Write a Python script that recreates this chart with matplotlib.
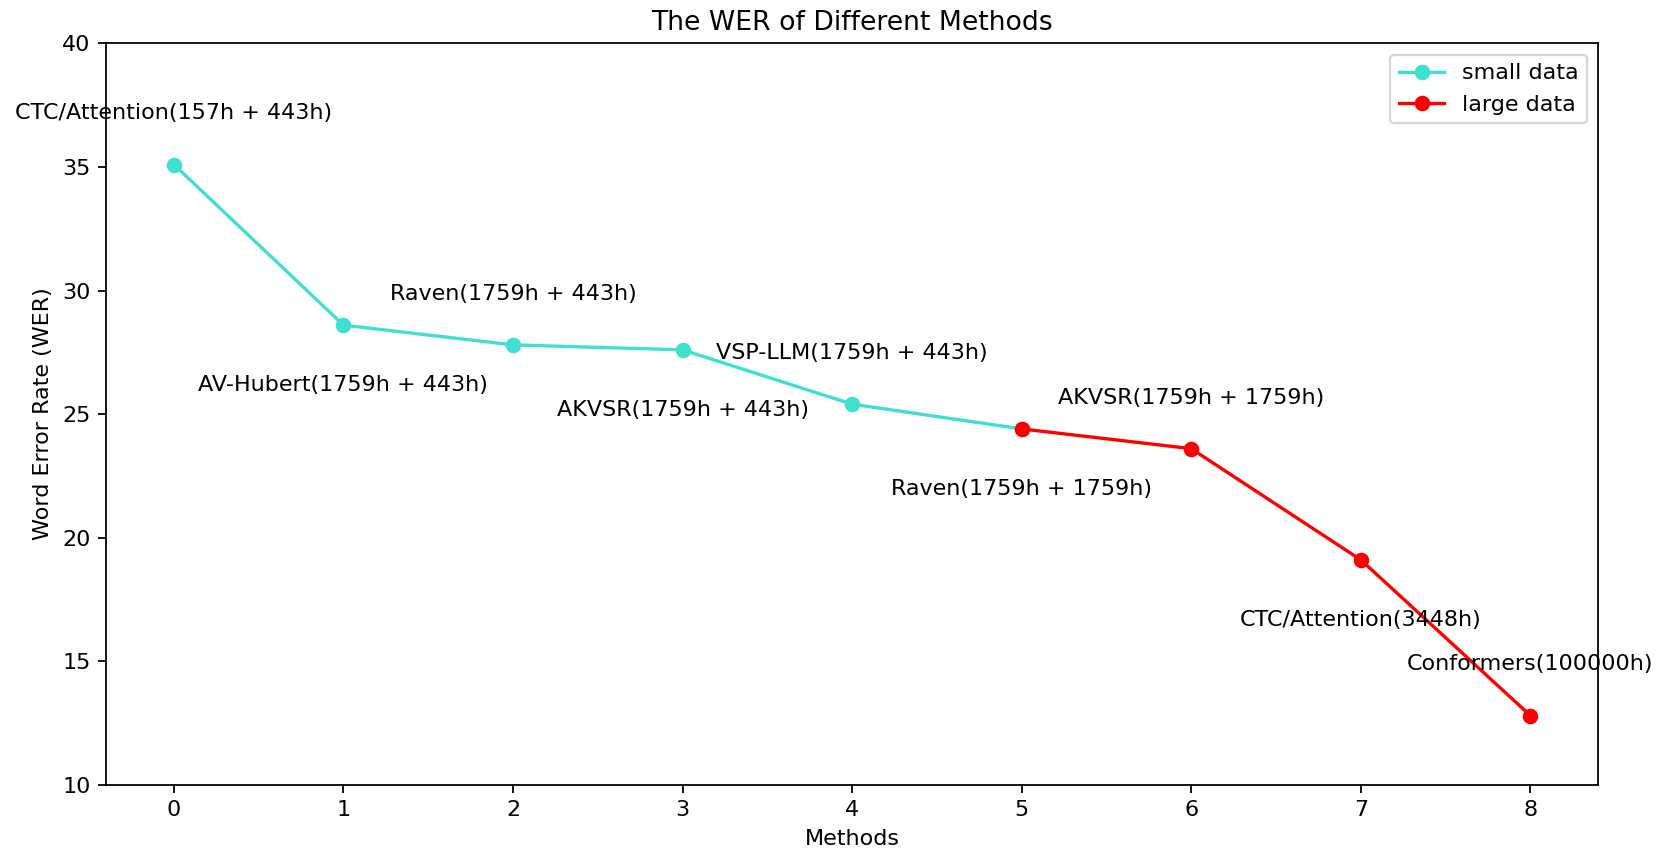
import matplotlib
matplotlib.use("Agg")
import matplotlib.pyplot as plt

# methods and their WER
methods = ['CTC/Attention(157h + 443h)', 'AV-Hubert(1759h + 443h)', 'Raven(1759h + 443h)',
           'AKVSR(1759h + 443h)', 'VSP-LLM(1759h + 443h)', 'Raven(1759h + 1759h)',
           'AKVSR(1759h + 1759h)', 'CTC/Attention(3448h)', 'Conformers(100000h)']
wer = [35.1, 28.6, 27.8, 27.6, 25.4, 24.4, 23.6, 19.1, 12.8]

small_idx = [0, 1, 2, 3, 4, 5]
large_idx = [5, 6, 7, 8]

fig = plt.figure(figsize=(1657 / 160, 852 / 160), dpi=160)
ax = fig.add_subplot(111)
fig.subplots_adjust(left=0.064, right=0.9645, top=0.949, bottom=0.079)

ax.plot(small_idx, [wer[i] for i in small_idx], marker='o',
        color='turquoise', label='small data')
ax.plot(large_idx, [wer[i] for i in large_idx], marker='o',
        color='red', label='large data')

# labels alternate above / below the points
for i, name in enumerate(methods):
    dy = 23 if i % 2 == 0 else -27
    ax.annotate(name, (i, wer[i]), xytext=(0, dy), textcoords='offset points',
                ha='center', va='center')

ax.set_ylim(10, 40)
ax.set_xticks(range(len(methods)))
ax.set_title('The WER of Different Methods')
ax.set_xlabel('Methods')
ax.set_ylabel('Word Error Rate (WER)')
ax.legend(loc='upper right')

fig.savefig('out.png', dpi=160)
